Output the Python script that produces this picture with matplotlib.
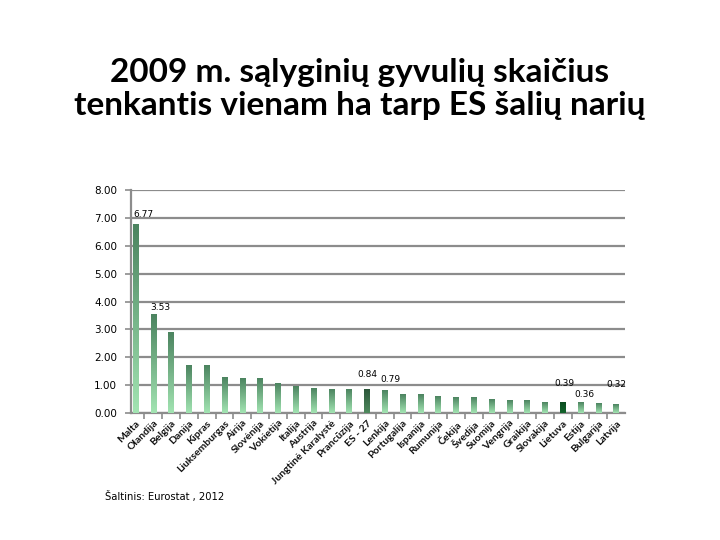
import numpy as np
import matplotlib
matplotlib.use("Agg")
import matplotlib.pyplot as plt
from matplotlib.colors import LinearSegmentedColormap

countries = ["Malta", "Olandija", "Belgija", "Danija", "Kipras", "Liuksemburgas",
             "Airija", "Slovėnija", "Vokietija", "Italija", "Austrija",
             "Jungtinė Karalystė", "Prancūzija", "ES - 27", "Lenkija", "Portugalija",
             "Ispanija", "Rumunija", "Čekija", "Švedija", "Suomija", "Vengrija",
             "Graikija", "Slovakija", "Lietuva", "Estija", "Bulgarija", "Latvija"]
values = [6.77, 3.53, 2.87, 1.72, 1.72, 1.28, 1.24, 1.24, 1.07, 0.96, 0.88,
          0.84, 0.86, 0.84, 0.79, 0.66, 0.66, 0.59, 0.55, 0.55, 0.48, 0.45,
          0.45, 0.37, 0.39, 0.36, 0.34, 0.32]
labelled = ["Malta", "Olandija", "ES - 27", "Lenkija", "Lietuva", "Estija", "Latvija"]
y_ticks = [0, 1, 2, 3, 4, 5, 6, 7, 8]

# gradients: light at the bottom, dark at the top
cmap_std = LinearSegmentedColormap.from_list("std", ["#a2e4b2", "#4c8460"])
cmap_eu = LinearSegmentedColormap.from_list("eu", ["#4f8a5e", "#2c573a"])
cmap_lt = LinearSegmentedColormap.from_list("lt", ["#13652d", "#0b4c1f"])

# label offsets in points (dx, dy)
label_offsets = {"Malta": (6, 4), "Olandija": (5, 2), "ES - 27": (0, 8),
                 "Lenkija": (4, 5), "Lietuva": (1, 10), "Estija": (3, 3),
                 "Latvija": (0, 11)}

fig = plt.figure(figsize=(7.2, 5.4), dpi=100)
ax = fig.add_axes([0.182, 0.235, 0.686, 0.413])

x = np.arange(len(countries))
width = 0.3
grad = np.linspace(0, 1, 64).reshape(-1, 1)
for xi, v, name in zip(x, values, countries):
    if name == "ES - 27":
        cm = cmap_eu
    elif name == "Lietuva":
        cm = cmap_lt
    else:
        cm = cmap_std
    ax.imshow(grad, cmap=cm, origin="lower", aspect="auto",
              extent=(xi - width / 2, xi + width / 2, 0, v), zorder=3)
    if name in labelled:
        dx, dy = label_offsets[name]
        ax.annotate(f"{v:.2f}", (xi, v), xytext=(dx, dy), textcoords="offset points",
                    ha="center", va="bottom", fontsize=6.5, family="DejaVu Sans",
                    color="black", zorder=4)

ax.set_xlim(-0.25, len(countries) - 0.5)
ax.set_ylim(0, 8)
ax.set_yticks(y_ticks)
ax.set_yticklabels([f"{t:.2f}" for t in y_ticks], fontsize=7.5, family="DejaVu Sans")
ax.yaxis.grid(True, color="#8c8c8c", linewidth=1.6, zorder=1)
ax.set_axisbelow(True)

ax.set_xticks(x)
ax.set_xticklabels(countries, rotation=45, ha="right", rotation_mode="anchor",
                   fontsize=7.5, family="Lato", fontweight="bold", color="#111111")
ax.tick_params(axis="x", length=0, pad=4)
ax.set_xticks(np.arange(0.5, len(countries) - 0.5, 1), minor=True)
ax.tick_params(axis="x", which="minor", length=4, color="#8c8c8c", width=1.2)
ax.tick_params(axis="y", length=4, color="#8c8c8c", width=1.2, pad=6)

for side in ["top", "right"]:
    ax.spines[side].set_visible(False)
for side in ["left", "bottom"]:
    ax.spines[side].set_color("#8c8c8c")
    ax.spines[side].set_linewidth(1.6)

fig.text(0.5, 0.836, "2009 m. sąlyginių gyvulių skaičius\ntenkantis vienam ha tarp ES šalių narių",
         ha="center", va="center", fontsize=24, family="Lato", fontweight="bold",
         linespacing=1.17)
fig.text(0.146, 0.08, "Šaltinis: Eurostat , 2012", ha="left", va="center",
         fontsize=7.2, family="DejaVu Sans")

fig.savefig("out.png", dpi=100, facecolor="white")
